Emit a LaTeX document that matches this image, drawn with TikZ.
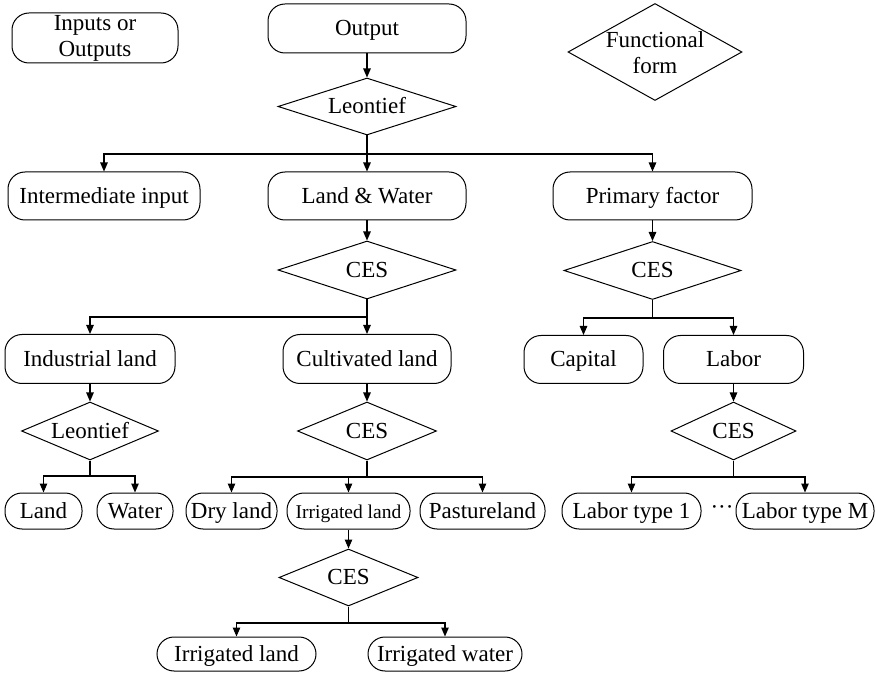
\documentclass[tikz,border=0pt]{standalone}
\usepackage{fontspec}
\setmainfont{Liberation Serif}
\usetikzlibrary{shapes.geometric,arrows.meta}
\begin{document}
\begin{tikzpicture}[x=1pt,y=-1pt,
  every node/.style={font=\fontsize{23}{26}\selectfont},
  rbox/.style={draw,rounded corners=17pt,inner sep=0pt,line width=1pt,text height=16pt,text depth=1.5pt},
  rbox2/.style={draw,rounded corners=17pt,inner sep=0pt,line width=1pt,align=center},
  dbox/.style={draw,diamond,aspect=3.2,inner sep=0pt,line width=1pt,text height=16pt,text depth=1.5pt},
  conn/.style={line width=1.1pt},
  arr/.style={conn,-{Triangle[length=9pt,width=7.5pt]}}
]
\useasboundingbox (0,0) rectangle (876,676);

% legend
\node[rbox2,minimum width=166pt,minimum height=50pt] (io) at (95,38) {Inputs or\\Outputs};
\node[draw,diamond,line width=1pt,minimum width=174pt,minimum height=97pt,inner sep=0pt] (ff) at (655,52) {};
\node[align=center,inner sep=0pt] (fftext) at (655,53) {Functional\\form};

% top
\node[rbox,minimum width=198pt,minimum height=49pt] (out) at (367,28.5) {Output};
\node[dbox,minimum width=178pt,minimum height=57pt] (leo1) at (367,106.5) {Leontief};

% second row
\node[rbox,minimum width=192pt,minimum height=48pt] (inter) at (104,196) {Intermediate input};
\node[rbox,minimum width=198pt,minimum height=48pt] (lw) at (367,196) {Land \& Water};
\node[rbox,minimum width=199pt,minimum height=48pt] (pf) at (652.5,196) {Primary factor};

\node[dbox,minimum width=178pt,minimum height=58pt] (ces1) at (367,270) {CES};
\node[dbox,minimum width=177pt,minimum height=58pt] (ces2) at (652.5,270.5) {CES};

% third row
\node[rbox,minimum width=170pt,minimum height=49pt] (ind) at (90,359) {Industrial land};
\node[rbox,minimum width=168pt,minimum height=49pt] (cult) at (367,359) {Cultivated land};
\node[rbox,minimum width=119pt,minimum height=48pt] (cap) at (583.5,359.5) {Capital};
\node[rbox,minimum width=140pt,minimum height=48pt] (lab) at (733.5,359.5) {Labor};

\node[dbox,minimum width=137pt,minimum height=58pt] (leo2) at (90,431) {Leontief};
\node[dbox,minimum width=139pt,minimum height=58pt] (ces3) at (367,431) {CES};
\node[dbox,minimum width=125pt,minimum height=58pt] (ces4) at (733.5,431) {CES};

% fourth row
\node[rbox,minimum width=77pt,minimum height=36pt] (land) at (43.5,511) {Land};
\node[rbox,minimum width=76pt,minimum height=36pt] (water) at (135,511) {Water};
\node[rbox,minimum width=91pt,minimum height=36pt] (dry) at (231.5,511) {Dry land};
\node[rbox,minimum width=123pt,minimum height=36pt,font=\fontsize{19.5}{22}\selectfont] (irr) at (348.5,511) {Irrigated land};
\node[rbox,minimum width=125pt,minimum height=36pt] (past) at (482.5,511) {Pastureland};
\node[rbox,minimum width=139pt,minimum height=36pt] (lt1) at (631.5,511) {Labor type 1};
\node[rbox,minimum width=138pt,minimum height=36pt] (ltm) at (805,511) {Labor type M};
\node[inner sep=0pt] (dots) at (722,510) {\textperiodcentered\textperiodcentered\textperiodcentered};

\node[dbox,minimum width=139pt,minimum height=57pt] (ces5) at (348.5,577.5) {CES};

% bottom row
\node[rbox,minimum width=159pt,minimum height=34pt] (irl) at (236.5,654) {Irrigated land};
\node[rbox,minimum width=154pt,minimum height=34pt] (irw) at (445,654) {Irrigated water};

% connectors
\draw[arr] (out.south) -- (leo1.north);
\coordinate (b1) at (367,154);
\draw[arr] (leo1.south) -- (lw.north);
\draw[arr] (b1) -| (inter.north);
\draw[arr] (b1) -| (pf.north);

\draw[arr] (lw.south) -- (ces1.north);
\coordinate (b2) at (367,317);
\draw[arr] (ces1.south) -- (cult.north);
\draw[arr] (b2) -| (ind.north);

\draw[arr] (pf.south) -- (ces2.north);
\coordinate (b3) at (652.5,318);
\draw[conn] (ces2.south) -- (b3);
\draw[arr] (b3) -| (cap.north);
\draw[arr] (b3) -| (lab.north);

\draw[arr] (ind.south) -- (leo2.north);
\draw[arr] (cult.south) -- (ces3.north);
\draw[arr] (lab.south) -- (ces4.north);

\coordinate (b4) at (90,476);
\draw[conn] (leo2.south) -- (b4);
\draw[arr] (b4) -| (land.north);
\draw[arr] (b4) -| (water.north);

\coordinate (b5) at (367,477);
\draw[conn] (ces3.south) -- (b5);
\draw[arr] (b5) -| (dry.north);
\draw[arr] (b5) -| (irr.north);
\draw[arr] (b5) -| (past.north);

\coordinate (b6) at (733.5,477);
\draw[conn] (ces4.south) -- (b6);
\draw[arr] (b6) -| (lt1.north);
\draw[arr] (b6) -| (ltm.north);

\draw[arr] (irr.south) -- (ces5.north);
\coordinate (b7) at (348.5,623);
\draw[conn] (ces5.south) -- (b7);
\draw[arr] (b7) -| (irl.north);
\draw[arr] (b7) -| (irw.north);
\end{tikzpicture}
\end{document}
